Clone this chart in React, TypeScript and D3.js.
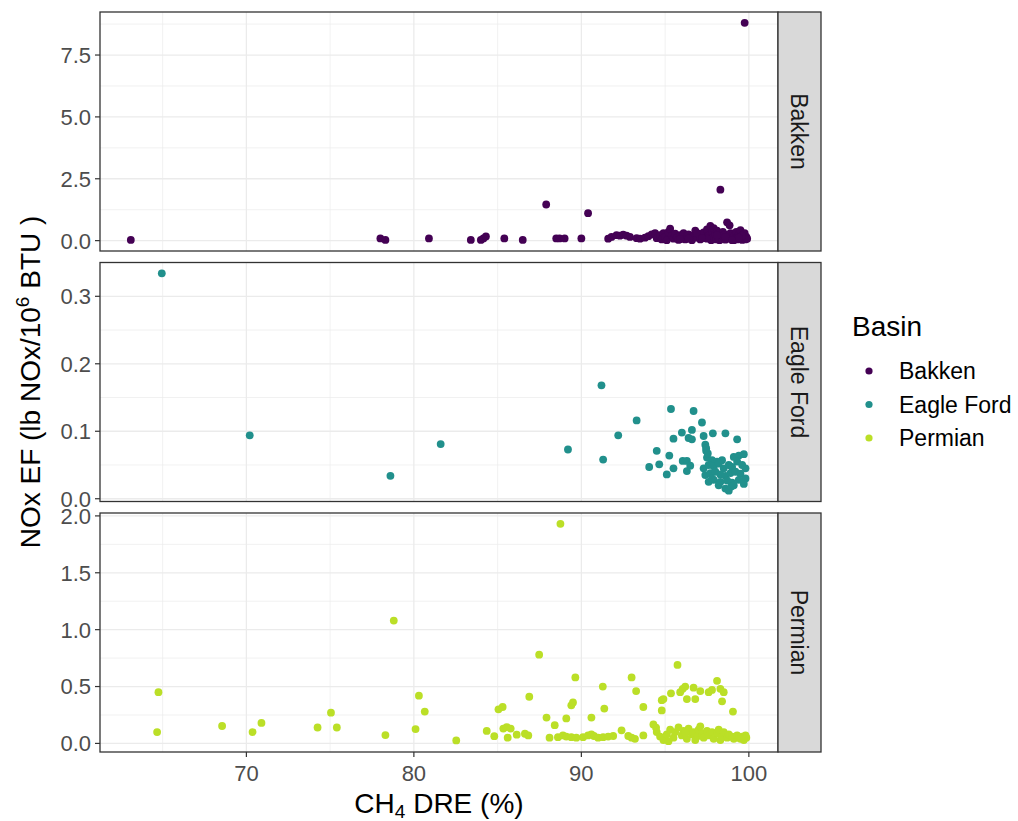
import React from "react";
import * as d3 from "d3";

// Basins and their colours (viridis-style palette)
const basins = ["Bakken", "Eagle Ford", "Permian"];
const basinColors = ["#440154", "#21908C", "#BBDF27"];

// CH4 destruction removal efficiency (%) and NOx emission factor per flare
const bakkenDre = [
  63.1, 78.0, 78.3, 80.9, 83.4, 84.0, 84.15, 84.3, 85.4, 86.5, 87.9, 88.5, 88.7, 89.0, 90.0, 90.4, 98.3, 99.75,
  91.6, 91.8, 92.1, 92.3, 92.5, 92.7, 92.9, 93.3, 93.5, 93.8, 94.0, 94.2, 94.4, 94.5, 94.7, 94.8, 94.9, 95.0,
  95.1, 95.2, 95.3, 95.4, 95.5, 95.6, 95.7, 95.8, 95.9, 96.0, 96.1, 96.2, 96.3, 96.4, 96.5, 96.6, 96.7, 96.8,
  96.9, 97.0, 97.1, 97.2, 97.3, 97.4, 97.5, 97.6, 97.7, 97.75, 97.8, 97.85, 97.9, 98.0, 98.05, 98.1, 98.15, 98.2,
  98.25, 98.35, 98.4, 98.45, 98.5, 98.55, 98.6, 98.7, 98.8, 98.85, 98.9, 98.95, 99.0, 99.05, 99.1, 99.15, 99.2,
  99.25, 99.3, 99.35, 99.4, 99.45, 99.5, 99.55, 99.6, 99.65, 99.7, 99.75, 99.8, 99.85, 99.9, 99.6, 99.4, 98.6,
  97.5, 96.9, 96.4, 95.9, 97.2, 98.1, 99.0,
];
const bakkenNox = [
  0.03, 0.09, 0.03, 0.09, 0.03, 0.03, 0.09, 0.17, 0.09, 0.03, 1.46, 0.09, 0.09, 0.09, 0.09, 1.11, 2.06, 8.8,
  0.08, 0.15, 0.22, 0.2, 0.24, 0.2, 0.15, 0.1, 0.08, 0.12, 0.18, 0.25, 0.3, 0.1, 0.22, 0.05, 0.3, 0.15,
  0.02, 0.35, 0.48, 0.2, 0.08, 0.28, 0.12, 0.03, 0.22, 0.15, 0.3, 0.05, 0.18, 0.25, 0.1, 0.02, 0.2, 0.4,
  0.12, 0.28, 0.05, 0.18, 0.33, 0.1, 0.45, 0.22, 0.6, 0.02, 0.35, 0.12, 0.5, 0.25, 0.05, 0.4, 0.15, 0.3,
  0.02, 0.2, 0.08, 0.35, 0.12, 0.25, 0.04, 0.74, 0.18, 0.62, 0.3, 0.06, 0.15, 0.28, 0.02, 0.2, 0.1,
  0.35, 0.05, 0.18, 0.25, 0.08, 0.42, 0.14, 0.03, 0.22, 0.1, 0.3, 0.05, 0.15, 0.08, 0.2, 0.12, 0.15,
  0.08, 0.3, 0.08, 0.06, 0.1, 0.22, 0.02,
];

const eagleFordDre = [
  64.95, 70.2, 78.6, 81.6, 89.2, 91.2, 91.3, 92.2, 93.3, 95.35, 96.7, 97.2, 96.6, 96.0, 95.5, 96.4, 96.6, 97.3,
  97.85, 98.6, 99.3, 94.5, 95.25, 94.05, 94.65, 95.5, 95.1, 96.05, 96.3, 96.5, 96.3, 97.4, 97.45, 97.5, 97.55,
  97.45, 97.8, 98.1, 98.4, 99.1, 99.4, 99.7,
  97.3, 97.6, 97.9, 98.2, 98.5, 98.8, 99.0, 99.3, 99.6, 99.8,
  97.4, 97.7, 98.0, 98.3, 98.6, 98.9, 99.2, 99.5, 99.8,
  97.6, 97.9, 98.3, 98.7, 99.0, 99.4, 99.7,
  98.6, 98.8, 98.95, 99.1, 98.2, 97.8,
];
const eagleFordNox = [
  0.334, 0.094, 0.034, 0.081, 0.073, 0.168, 0.058, 0.094, 0.116, 0.133, 0.13, 0.113, 0.102, 0.098, 0.089, 0.09,
  0.088, 0.093, 0.097, 0.097, 0.088, 0.071, 0.064, 0.047, 0.051, 0.045, 0.036, 0.056, 0.056, 0.049, 0.041,
  0.08, 0.071, 0.061, 0.067, 0.075, 0.057, 0.055, 0.057, 0.062, 0.064, 0.066,
  0.045, 0.05, 0.048, 0.052, 0.045, 0.05, 0.047, 0.055, 0.05, 0.045,
  0.035, 0.038, 0.04, 0.036, 0.034, 0.038, 0.04, 0.037, 0.03,
  0.025, 0.028, 0.025, 0.027, 0.024, 0.028, 0.022,
  0.015, 0.012, 0.018, 0.02, 0.02, 0.03,
];

const permianDre = [
  64.75, 64.67, 68.55, 70.37, 70.9, 74.25, 75.05, 75.4, 78.3, 78.8, 80.1, 80.3, 80.65, 82.53, 84.35, 84.8,
  85.05, 85.3, 85.34, 85.54, 85.78, 86.14, 86.63, 86.83, 85.6, 86.89, 87.48, 87.92, 88.41, 88.1, 88.6, 88.9,
  89.1, 89.4, 89.7, 89.1, 89.4, 89.5, 89.64, 88.75, 90.1, 90.4, 90.6, 90.75, 90.6, 91.28, 91.37, 91.0, 91.3,
  91.6, 91.9, 92.4, 92.8, 93.0, 93.2, 93.0, 93.27, 93.7, 93.7, 94.3, 94.46, 94.8, 94.9, 94.8, 95.35, 95.74,
  95.9, 96.05, 96.2, 96.3, 96.8, 96.7, 97.1, 97.6, 97.8, 98.1, 98.3, 98.5, 98.4, 99.05,
  94.5, 94.7, 94.9, 95.1, 95.3, 95.5, 95.6, 95.8, 96.0, 96.1, 96.3, 96.4, 96.6, 96.7, 96.9, 97.0, 97.2, 97.3,
  97.5, 97.6, 97.8, 97.9, 98.1, 98.2, 98.4, 98.5, 98.7, 98.8, 99.0, 99.1, 99.3, 99.4, 99.6, 99.7, 99.85, 99.8,
  95.2, 96.8, 98.3, 99.5, 97.1, 96.2,
];
const permianNox = [
  0.45, 0.1, 0.153, 0.1, 0.18, 0.14, 0.27, 0.14, 0.073, 1.08, 0.126, 0.42, 0.28, 0.026, 0.11, 0.064,
  0.3, 0.32, 0.13, 0.144, 0.13, 0.077, 0.085, 0.07, 0.05, 0.41, 0.78, 0.227, 0.16, 0.05, 0.055, 0.07,
  0.06, 0.055, 0.05, 0.22, 0.335, 0.36, 0.58, 1.93, 0.055, 0.07, 0.08, 0.065, 0.227, 0.5, 0.306, 0.05, 0.055,
  0.06, 0.065, 0.115, 0.065, 0.05, 0.04, 0.58, 0.46, 0.32, 0.07, 0.167, 0.138, 0.38, 0.39, 0.29, 0.44, 0.69,
  0.45, 0.48, 0.5, 0.39, 0.39, 0.49, 0.46, 0.45, 0.47, 0.55, 0.48, 0.45, 0.37, 0.28,
  0.1, 0.06, 0.03, 0.08, 0.12, 0.05, 0.1, 0.14, 0.07, 0.11, 0.04, 0.13, 0.08, 0.1, 0.06, 0.12, 0.09, 0.05,
  0.11, 0.07, 0.1, 0.04, 0.09, 0.12, 0.06, 0.1, 0.05, 0.08, 0.06, 0.04, 0.07, 0.05, 0.06, 0.03, 0.05, 0.07,
  0.02, 0.03, 0.03, 0.04, 0.15, 0.09,
];

// Axis breaks and labels
const xTicks = [70, 80, 90, 100];
const xTickLabels = ["70", "80", "90", "100"];
const yTicksBakken = [0, 2.5, 5, 7.5];
const yTickLabelsBakken = ["0.0", "2.5", "5.0", "7.5"];
const yTicksEagleFord = [0, 0.1, 0.2, 0.3];
const yTickLabelsEagleFord = ["0.0", "0.1", "0.2", "0.3"];
const yTicksPermian = [0, 0.5, 1, 1.5, 2];
const yTickLabelsPermian = ["0.0", "0.5", "1.0", "1.5", "2.0"];

const seriesDre = [bakkenDre, eagleFordDre, permianDre];
const seriesNox = [bakkenNox, eagleFordNox, permianNox];
const seriesYTicks = [yTicksBakken, yTicksEagleFord, yTicksPermian];
const seriesYLabels = [yTickLabelsBakken, yTickLabelsEagleFord, yTickLabelsPermian];

const W = 1018;
const H = 821;
const panelLeft = 100;
const panelRight = 778;
const stripRight = 821;
const panelTop = 12;
const panelH = 239;
const panelGap = 11.5;

const FONT = "'Liberation Sans', Arial, sans-serif";
const GRID = "#EBEBEB";
const BORDER = "#333333";
const TICK_TEXT = 22;
const SMALL_TEXT = 23;
const TITLE_TEXT = 28;

function expand(ext: [number, number]): [number, number] {
  const pad = (ext[1] - ext[0]) * 0.05;
  return [ext[0] - pad, ext[1] + pad];
}

function minorBreaks(majors: number[], domain: [number, number]) {
  const step = majors[1] - majors[0];
  const out: number[] = [];
  for (let i = -1; i < majors.length; i++) {
    const m = majors[0] + (i + 0.5) * step;
    if (m >= domain[0] && m <= domain[1]) out.push(m);
  }
  return out;
}

const allDre = ([] as number[]).concat(bakkenDre, eagleFordDre, permianDre);
const xDomain = expand(d3.extent(allDre) as [number, number]);
const x = d3.scaleLinear().domain(xDomain).range([panelLeft, panelRight]);
const xMinor = minorBreaks(xTicks, xDomain);

export default function App() {
  const bottom = panelTop + 3 * panelH + 2 * panelGap;
  return (
    <svg
      width={W}
      height={H}
      style={{ position: "absolute", left: 0, top: 0, background: "#fff" }}
      fontFamily={FONT}
    >
      <rect width={W} height={H} fill="#fff" />
      {basins.map((b, i) => {
        const top = panelTop + i * (panelH + panelGap);
        const yDomain = expand(d3.extent(seriesNox[i]) as [number, number]);
        const y = d3.scaleLinear().domain(yDomain).range([top + panelH, top]);
        const yMinor = minorBreaks(seriesYTicks[i], yDomain);
        const dre = seriesDre[i];
        const nox = seriesNox[i];
        return (
          <g key={b}>
            {/* grid */}
            {yMinor.map((v) => (
              <line key={"ym" + v} x1={panelLeft} x2={panelRight} y1={y(v)} y2={y(v)} stroke={GRID} strokeWidth={0.7} />
            ))}
            {xMinor.map((v) => (
              <line key={"xm" + v} x1={x(v)} x2={x(v)} y1={top} y2={top + panelH} stroke={GRID} strokeWidth={0.7} />
            ))}
            {seriesYTicks[i].map((v) => (
              <line key={"yM" + v} x1={panelLeft} x2={panelRight} y1={y(v)} y2={y(v)} stroke={GRID} strokeWidth={1.3} />
            ))}
            {xTicks.map((v) => (
              <line key={"xM" + v} x1={x(v)} x2={x(v)} y1={top} y2={top + panelH} stroke={GRID} strokeWidth={1.3} />
            ))}
            {/* points */}
            {dre.map((d, k) => (
              <circle key={k} cx={x(d)} cy={y(nox[k])} r={3.9} fill={basinColors[i]} />
            ))}
            {/* border */}
            <rect x={panelLeft} y={top} width={panelRight - panelLeft} height={panelH} fill="none" stroke={BORDER} strokeWidth={1.3} />
            {/* y axis */}
            {seriesYTicks[i].map((v, k) => (
              <g key={"yt" + v}>
                <line x1={panelLeft - 5} x2={panelLeft} y1={y(v)} y2={y(v)} stroke={BORDER} strokeWidth={1.2} />
                <text x={panelLeft - 9} y={y(v)} dy="0.36em" textAnchor="end" fontSize={TICK_TEXT} fill="#4D4D4D">
                  {seriesYLabels[i][k]}
                </text>
              </g>
            ))}
            {/* strip */}
            <rect x={panelRight} y={top} width={stripRight - panelRight} height={panelH} fill="#D9D9D9" stroke={BORDER} strokeWidth={1.3} />
            <text
              transform={`translate(${(panelRight + stripRight) / 2},${top + panelH / 2}) rotate(90)`}
              textAnchor="middle"
              dy="0.36em"
              fontSize={SMALL_TEXT}
              fill="#1A1A1A"
            >
              {b}
            </text>
          </g>
        );
      })}
      {/* x axis */}
      {xTicks.map((v, k) => (
        <g key={"xt" + v}>
          <line x1={x(v)} x2={x(v)} y1={bottom} y2={bottom + 5} stroke={BORDER} strokeWidth={1.2} />
          <text x={x(v)} y={bottom + 21} dy="0.36em" textAnchor="middle" fontSize={TICK_TEXT} fill="#4D4D4D">
            {xTickLabels[k]}
          </text>
        </g>
      ))}
      <text x={(panelLeft + panelRight) / 2} y={813} textAnchor="middle" fontSize={TITLE_TEXT} fill="#000">
        CH
        <tspan fontSize={19} dy={5}>4</tspan>
        <tspan dy={-5}> DRE (%)</tspan>
      </text>
      <text
        transform={`translate(40,${(panelTop + bottom) / 2}) rotate(-90)`}
        textAnchor="middle"
        fontSize={TITLE_TEXT}
        fill="#000"
      >
        NOx EF (lb NOx/10
        <tspan fontSize={19} dy={-11}>6</tspan>
        <tspan dy={11}> BTU )</tspan>
      </text>
      {/* legend */}
      <text x={852} y={336} fontSize={TITLE_TEXT} fill="#000">Basin</text>
      {basins.map((b, i) => (
        <g key={"lg" + b}>
          <circle cx={869} cy={371 + i * 33.5} r={3.6} fill={basinColors[i]} />
          <text x={899} y={371 + i * 33.5} dy="0.36em" fontSize={SMALL_TEXT} fill="#000">{b}</text>
        </g>
      ))}
    </svg>
  );
}
